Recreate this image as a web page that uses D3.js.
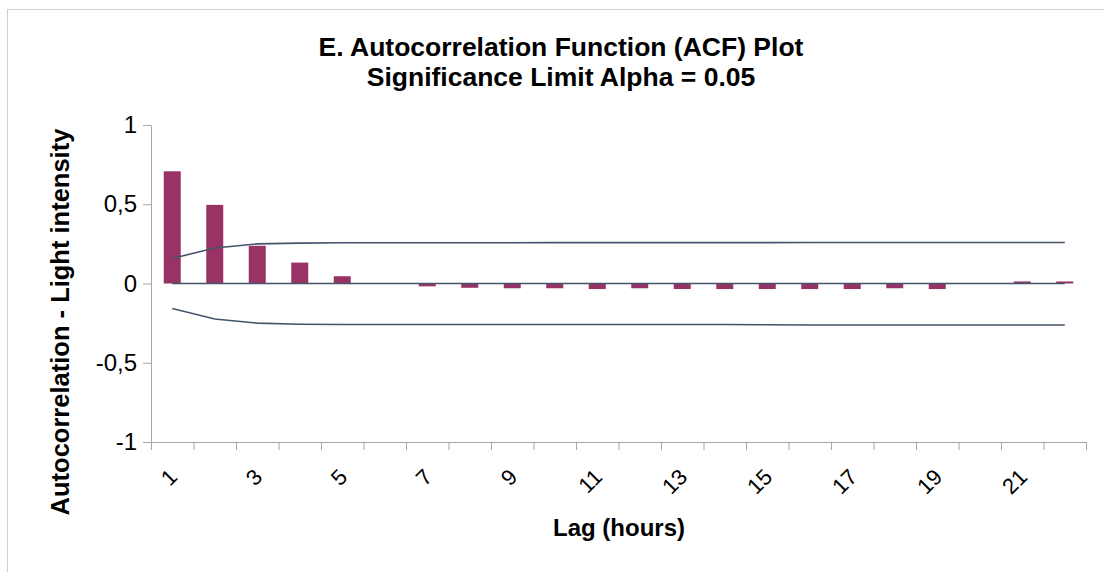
<!DOCTYPE html>
<html>
<head>
<meta charset="utf-8">
<script src="https://cdn.jsdelivr.net/npm/d3@7"></script>
<style>
  html, body { margin: 0; padding: 0; background: #fff; }
  svg { display: block; font-family: "Liberation Sans", Arial, sans-serif; }
</style>
</head>
<body>
<svg id="chart" width="1104" height="572"></svg>
<script>
// Lags (hours) and autocorrelation coefficients
const lags = [1, 2, 3, 4, 5, 6, 7, 8, 9, 10, 11, 12, 13, 14, 15, 16, 17, 18, 19, 20, 21, 22];
const acf = [0.708, 0.496, 0.238, 0.132, 0.046, -0.002, -0.018, -0.027, -0.030, -0.030, -0.035,
             -0.030, -0.035, -0.035, -0.035, -0.035, -0.035, -0.030, -0.035, 0.003, 0.013, 0.013];
// Significance limits (alpha = 0.05)
const upperLimit = [0.158, 0.224, 0.250, 0.255, 0.257, 0.257, 0.257, 0.257, 0.257, 0.258, 0.258,
                    0.258, 0.258, 0.258, 0.258, 0.259, 0.259, 0.259, 0.259, 0.259, 0.259, 0.259];
const lowerLimit = [-0.158, -0.224, -0.250, -0.257, -0.259, -0.259, -0.259, -0.259, -0.259, -0.259, -0.259,
                    -0.259, -0.259, -0.259, -0.260, -0.262, -0.262, -0.262, -0.262, -0.262, -0.262, -0.262];
// Axis labels
const yTickValues = [-1, -0.5, 0, 0.5, 1];
const yTickLabels = ["-1", "-0,5", "0", "0,5", "1"];
const xTickLabels = ["1", "3", "5", "7", "9", "11", "13", "15", "17", "19", "21"];
const titleLines = ["E. Autocorrelation Function (ACF) Plot", "Significance Limit Alpha = 0.05"];

const svg = d3.select("#chart");
const plot = { left: 151, right: 1086, top: 125, bottom: 442 };

const barColor = "#993366";
const lineColor = "#44546A";
const axisColor = "#A6A6A6";

// Outer chart frame
svg.append("rect")
  .attr("x", 7.5).attr("y", 9.5)
  .attr("width", 1110).attr("height", 580)
  .attr("fill", "none").attr("stroke", "#D0D0D0").attr("stroke-width", 1);

const x = d3.scaleBand().domain(lags).range([plot.left, plot.right]).padding(0);
const xEdge = d3.scaleLinear().domain([0, lags.length]).range([plot.left, plot.right]);
const y = d3.scaleLinear().domain([-1, 1]).range([plot.bottom, plot.top]);
const cx = d => x(d) + x.bandwidth() / 2;

// Y axis
const yAxis = svg.append("g")
  .attr("transform", `translate(${plot.left},0)`)
  .call(d3.axisLeft(y)
    .tickValues(yTickValues)
    .tickFormat((d, i) => yTickLabels[i])
    .tickSize(8).tickSizeOuter(0).tickPadding(6));
yAxis.select(".domain").attr("stroke", axisColor);
yAxis.selectAll(".tick line").attr("stroke", axisColor);
yAxis.selectAll(".tick text")
  .attr("font-size", 24).attr("fill", "#000")
  .attr("font-family", "Liberation Sans, Arial, sans-serif");

// X axis (ticks on category boundaries)
const xAxis = svg.append("g")
  .attr("transform", `translate(0,${plot.bottom})`)
  .call(d3.axisBottom(xEdge)
    .tickValues(d3.range(0, lags.length + 1))
    .tickFormat("")
    .tickSize(8).tickSizeOuter(0));
xAxis.select(".domain").attr("stroke", axisColor);
xAxis.selectAll(".tick line").attr("stroke", axisColor);

// Category labels, every second lag, rotated
svg.append("g").selectAll("text")
  .data(xTickLabels)
  .join("text")
  .attr("transform", d => `translate(${cx(+d) + 1},${plot.bottom + 31}) rotate(-45)`)
  .attr("text-anchor", "end")
  .attr("dominant-baseline", "central")
  .attr("font-size", 22)
  .attr("fill", "#000")
  .text(d => d);

// ACF bars (gap width 150%)
const barW = x.bandwidth() * 0.4;
svg.append("g").selectAll("rect")
  .data(lags.map((lag, i) => ({ lag, v: acf[i] })))
  .join("rect")
  .attr("x", d => cx(d.lag) - barW / 2)
  .attr("width", barW)
  .attr("y", d => y(Math.max(0, d.v)))
  .attr("height", d => Math.abs(y(d.v) - y(0)))
  .attr("fill", barColor);

// Zero line and significance limits
const line = d3.line().x(d => cx(d.lag)).y(d => y(d.v));
svg.append("path")
  .datum([{ lag: lags[0], v: 0 }, { lag: lags[lags.length - 1], v: 0 }])
  .attr("d", line).attr("fill", "none")
  .attr("stroke", lineColor).attr("stroke-width", 1.6);
[upperLimit, lowerLimit].forEach(series => {
  svg.append("path")
    .datum(lags.map((lag, i) => ({ lag, v: series[i] })))
    .attr("d", line).attr("fill", "none")
    .attr("stroke", lineColor).attr("stroke-width", 1.6);
});

// Titles
svg.append("text")
  .attr("x", 561).attr("y", 56)
  .attr("text-anchor", "middle")
  .attr("font-size", 26.5).attr("font-weight", "bold")
  .selectAll("tspan")
  .data(titleLines)
  .join("tspan")
  .attr("x", 561)
  .attr("dy", (d, i) => i === 0 ? 0 : 30)
  .text(d => d);

svg.append("text")
  .attr("x", 619).attr("y", 536)
  .attr("text-anchor", "middle")
  .attr("font-size", 24).attr("font-weight", "bold")
  .text("Lag (hours)");

svg.append("text")
  .attr("transform", `translate(69,322) rotate(-90)`)
  .attr("text-anchor", "middle")
  .attr("font-size", 25.5).attr("font-weight", "bold")
  .text("Autocorrelation - Light intensity");
</script>
</body>
</html>
